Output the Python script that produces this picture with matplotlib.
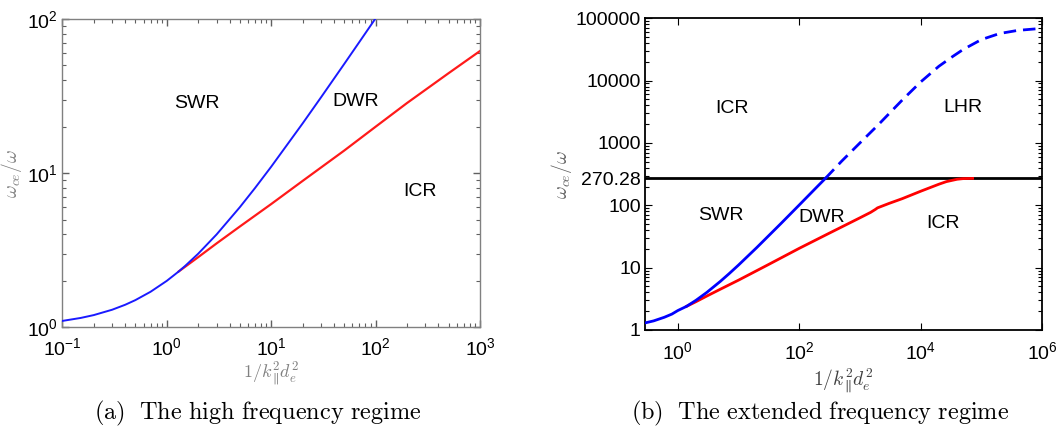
import matplotlib
matplotlib.use('Agg')
import matplotlib.pyplot as plt
from matplotlib.ticker import FixedLocator, FixedFormatter, NullLocator
import numpy as np

plt.rcParams['font.family'] = ['Liberation Sans', 'DejaVu Sans']

# (a) high frequency regime
a_blue_x = [0.1, 0.15, 0.2, 0.3, 0.4, 0.5, 0.7, 1.0, 1.3, 1.5, 2, 3, 5, 7, 10, 20, 30, 50, 70, 100]
a_blue_y = [1.1, 1.15, 1.2, 1.3, 1.4, 1.5, 1.7, 2.0, 2.3, 2.5, 3, 4, 6, 8, 11, 21, 31, 51, 71, 101]
a_red_x = [1.3, 2, 3, 5, 10, 20, 50, 100, 200, 500, 1000]
a_red_y = [2.3, 2.85, 3.5, 4.5, 6.3, 8.9, 14, 20, 28.5, 44.5, 62]

# (b) extended frequency regime
b_blue_x = [0.29, 0.4, 0.6, 0.8, 1.0, 1.4, 2, 3, 5, 7, 10, 20, 50, 100, 200, 270]
b_blue_y = [1.3, 1.4, 1.6, 1.8, 2.05, 2.4, 3, 4, 6, 8, 11, 21, 51, 101, 201, 270.28]
b_dash_x = [270, 500, 1000, 2000, 5000, 1e4, 2e4, 3.4e4, 5e4, 1e5, 2e5, 4e5, 1e6]
b_dash_y = [270.28, 510, 1000, 1950, 4900, 9500, 1.7e4, 2.45e4, 3.15e4, 4.55e4, 5.7e4,
            6.4e4, 6.9e4]
b_red_x = [1.4, 2, 3, 5, 10, 30, 100, 300, 1000, 1500, 1800, 1950, 3000, 5000, 1e4,
           2e4, 2.66e4, 4e4, 5e4, 7.2e4]
b_red_y = [2.4, 2.85, 3.5, 4.5, 6.3, 11, 20.4, 35, 63, 77, 86, 91, 107, 128, 168,
           218, 240, 262, 268, 270.28]
b_level = 270.28

b_yticks = [1, 10, 100, 270.28, 1000, 10000, 100000]
b_yticklabels = ['1', '10', '100', '270.28', '1000', '10000', '100000']


def minor_log(lo, hi):
    # 2..9 subdivisions of every decade between 10**lo and 10**hi
    return [m * 10.0 ** d for d in range(lo, hi) for m in range(2, 10)]


fig = plt.figure(figsize=(10.57, 4.38), dpi=100)

# ---- panel (a)
ax1 = fig.add_axes([62.3 / 1057, 1 - 327.3 / 438, (480 - 62.3) / 1057, (327.3 - 19) / 438])
ax1.plot(a_blue_x, a_blue_y, color='#1a1aff', lw=1.4, zorder=3)
ax1.plot(a_red_x, a_red_y, color='#ff1a1a', lw=1.6, zorder=2)
ax1.set_xscale('log')
ax1.set_yscale('log')
ax1.set_xlim(0.1, 1000)
ax1.set_ylim(1, 100)
for s in ax1.spines.values():
    s.set_color('#808080')
    s.set_linewidth(1.0)
ax1.xaxis.set_minor_locator(FixedLocator(minor_log(-1, 3)))
ax1.yaxis.set_minor_locator(FixedLocator(minor_log(0, 2)))
ax1.tick_params(which='both', direction='in', top=True, right=True, colors='#606060',
                labelcolor='black', labelsize=14)
ax1.tick_params(which='major', length=5, width=1.0)
ax1.tick_params(which='minor', length=3, width=0.8)
ax1.tick_params(axis='x', which='major', pad=7)
ax1.tick_params(axis='y', which='major', pad=3)
ax1.set_xlabel(r'$1/k_{\parallel}^{2}\!d_e^{2}$', color='#808080', fontsize=13,
               math_fontfamily='cm', labelpad=1)
ax1.set_ylabel(r'$\omega_{ce}/\omega$', color='#808080', fontsize=14,
               math_fontfamily='cm', labelpad=2)
ax1.text(1.94, 28.5, 'SWR', fontsize=14, ha='center', va='center')
ax1.text(64, 29, 'DWR', fontsize=14, ha='center', va='center')
ax1.text(267, 7.65, 'ICR', fontsize=14, ha='center', va='center')

# ---- panel (b)
ax2 = fig.add_axes([645 / 1057, 1 - 330 / 438, (1042 - 645) / 1057, (330 - 18.3) / 438])
ax2.axhline(b_level, color='black', lw=2.0, zorder=2)
ax2.plot(b_red_x, b_red_y, color='red', lw=2.0, zorder=3)
ax2.plot(b_blue_x, b_blue_y, color='blue', lw=2.0, zorder=4)
ax2.plot(b_dash_x, b_dash_y, color='blue', lw=2.0, ls=(0, (4.5, 2.5)), zorder=4)
ax2.set_xscale('log')
ax2.set_yscale('log')
ax2.set_xlim(10 ** -0.54, 1e6)
ax2.set_ylim(1, 100000)
for s in ax2.spines.values():
    s.set_color('black')
    s.set_linewidth(1.3)
ax2.xaxis.set_major_locator(FixedLocator([1, 100, 10000, 1e6]))
ax2.xaxis.set_minor_locator(NullLocator())
ax2.yaxis.set_major_locator(FixedLocator(b_yticks))
ax2.yaxis.set_major_formatter(FixedFormatter(b_yticklabels))
ax2.yaxis.set_minor_locator(FixedLocator(minor_log(0, 5)))
ax2.tick_params(which='both', direction='in', top=True, right=True, labelsize=14)
ax2.tick_params(which='major', length=5)
ax2.tick_params(which='minor', length=3, width=0.8)
ax2.tick_params(axis='x', pad=8)
ax2.tick_params(axis='y', pad=3)
ax2.set_xlabel(r'$1/k_{\parallel}^{2}\!d_e^{2}$', color='#404040', fontsize=14,
               math_fontfamily='cm', labelpad=2)
ax2.set_ylabel(r'$\omega_{ce}/\omega$', color='#606060', fontsize=14,
               math_fontfamily='cm', labelpad=1)
ax2.text(7.7, 3560, 'ICR', fontsize=14, ha='center', va='center')
ax2.text(49000, 3700, 'LHR', fontsize=14, ha='center', va='center')
ax2.text(5.2, 68, 'SWR', fontsize=14, ha='center', va='center')
ax2.text(237, 63, 'DWR', fontsize=14, ha='center', va='center')
ax2.text(23600, 51, 'ICR', fontsize=14, ha='center', va='center')

# captions
fig.text(0.244, 0.055, r'$\mathrm{(a)\ \ The\ high\ frequency\ regime}$', fontsize=17.5,
         math_fontfamily='cm', ha='center', va='center')
fig.text(0.776, 0.055, r'$\mathrm{(b)\ \ The\ extended\ frequency\ regime}$', fontsize=17.5,
         math_fontfamily='cm', ha='center', va='center')

fig.savefig('out.png', dpi=100)
